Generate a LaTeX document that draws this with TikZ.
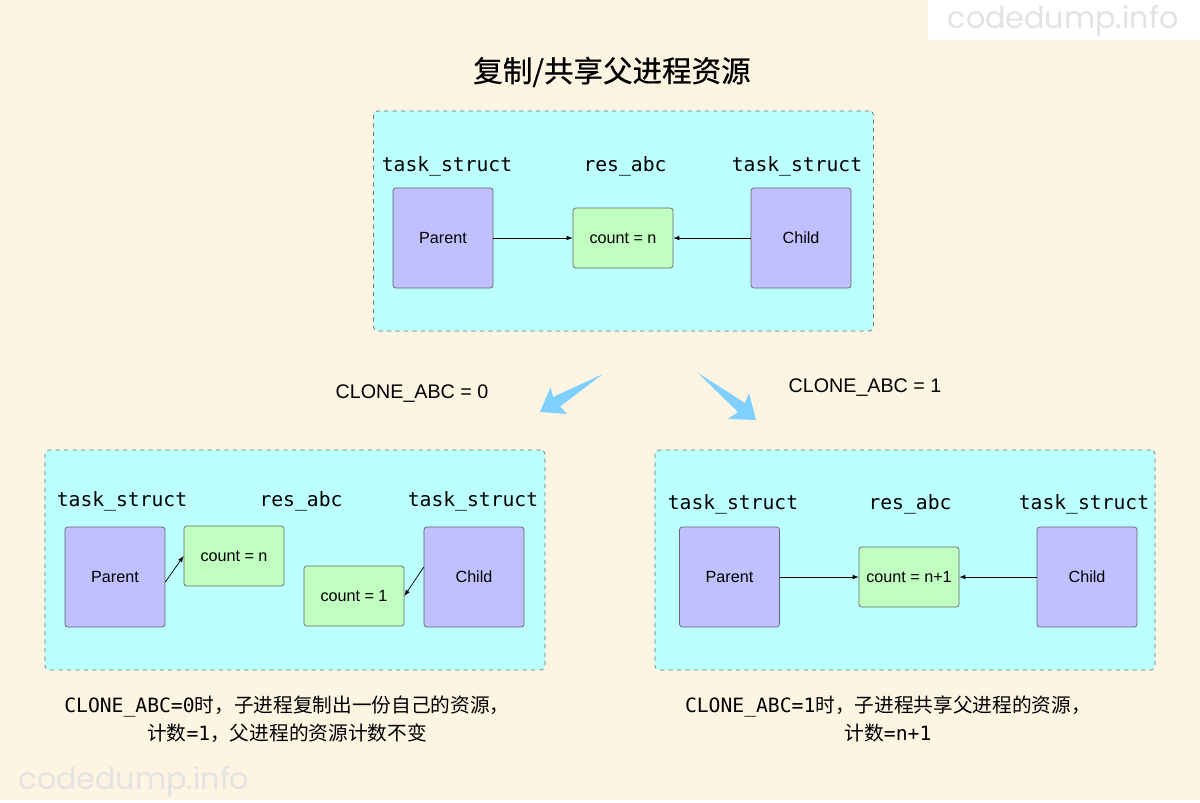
\documentclass[tikz,border=0pt]{standalone}
\usepackage{fontspec}
\setmainfont{Liberation Sans}
\setmonofont{DejaVu Sans Mono}
\newfontfamily\cjk{Noto Sans CJK SC}
\newfontfamily\cjktitle[BoldFont={Noto Sans CJK SC}, BoldFeatures={FakeBold=0.5}]{Noto Sans CJK SC}
\newfontfamily\markfont{Poppins}
\definecolor{paper}{HTML}{FDF5E2}
\definecolor{groupfill}{HTML}{BBFFFF}
\definecolor{procfill}{HTML}{C0BFFF}
\definecolor{resfill}{HTML}{C0FFC0}
\definecolor{arrowblue}{HTML}{80D0FF}
\definecolor{markgray}{HTML}{E3E3E3}
\begin{document}
\begin{tikzpicture}[x=0.025cm,y=-0.025cm,
  box/.style={draw=black!60, rounded corners=2pt, line width=0.5pt, inner sep=0pt, font=\fontsize{11.5}{13}\selectfont},
  proc/.style={box, fill=procfill, minimum width=2.5cm, minimum height=2.5cm},
  res/.style={box, fill=resfill, minimum width=2.5cm, minimum height=1.5cm},
  group/.style={draw=black!55, dashed, line width=0.5pt, fill=groupfill, rounded corners=3pt, inner sep=0pt, minimum width=12.5cm, minimum height=5.5cm},
  lbl/.style={font=\ttfamily\fontsize{14}{16}\selectfont},
  cond/.style={font=\fontsize{14}{16}\selectfont},
  note/.style={align=center, font=\cjk\fontsize{14}{20}\selectfont},
  wmark/.style={markgray, font=\markfont\fontsize{21.5}{24}\selectfont},
  link/.style={-latex, line width=0.5pt}]
\fill[paper] (0,0) rectangle (1200,800);
\fill[white] (928,0) rectangle (1200,40);
\node[wmark] (markA) at (1063,21) {codedump.info};
\node[wmark] (markB) at (134,782) {codedump.info};

\node[font=\cjktitle\bfseries\fontsize{21}{24}\selectfont] (title) at (612,72) {复制/共享父进程资源};

% shared before clone
\node[group] (groupA) at (623.5,221) {};
\node[lbl] (lblA1) at (447,166) {task\_struct};
\node[lbl] (lblA2) at (625,166) {res\_abc};
\node[lbl] (lblA3) at (797,166) {task\_struct};
\node[proc] (parentA) at (443,238) {Parent};
\node[res] (resA) at (623,238) {count = n};
\node[proc] (childA) at (801,238) {Child};
\draw[link] (parentA) -- (resA);
\draw[link] (childA) -- (resA);

% the two cases
\fill[arrowblue] (603,374) -- (553,397) -- (550.5,387) -- (540,412) -- (567,414) -- (560,406.5) -- cycle;
\fill[arrowblue] (698,373) -- (745,403) -- (749,393) -- (756,420) -- (728,419) -- (738,412) -- cycle;
\node[cond] (condA) at (412,394) {CLONE\_ABC = 0};
\node[cond] (condB) at (865,388) {CLONE\_ABC = 1};

% CLONE_ABC = 0
\node[group] (groupB) at (295,560) {};
\node[lbl] (lblB1) at (122,501) {task\_struct};
\node[lbl] (lblB2) at (301,501) {res\_abc};
\node[lbl] (lblB3) at (473,501) {task\_struct};
\node[proc] (parentB) at (115,577) {Parent};
\node[res] (resB1) at (234,556) {count = n};
\node[res] (resB2) at (354,596) {count = 1};
\node[proc] (childB) at (474,577) {Child};
\draw[link] ([yshift=-3.5pt]parentB.east) -- (resB1.west);
\draw[link] ([yshift=7pt]childB.west) -- (resB2.east);
\node[note] (noteB) at (287,719) {{\ttfamily CLONE\_ABC=0}时，子进程复制出一份自己的资源，\\计数{\ttfamily =1}，父进程的资源计数不变};

% CLONE_ABC = 1
\node[group] (groupC) at (905,560) {};
\node[lbl] (lblC1) at (733,504) {task\_struct};
\node[lbl] (lblC2) at (910,504) {res\_abc};
\node[lbl] (lblC3) at (1084,504) {task\_struct};
\node[proc] (parentC) at (729.5,577) {Parent};
\node[res] (resC) at (909,577) {count = n+1};
\node[proc] (childC) at (1087,577) {Child};
\draw[link] (parentC) -- (resC);
\draw[link] (childC) -- (resC);
\node[note] (noteC) at (888,719) {{\ttfamily CLONE\_ABC=1}时，子进程共享父进程的资源，\\计数{\ttfamily =n+1}};
\end{tikzpicture}
\end{document}
